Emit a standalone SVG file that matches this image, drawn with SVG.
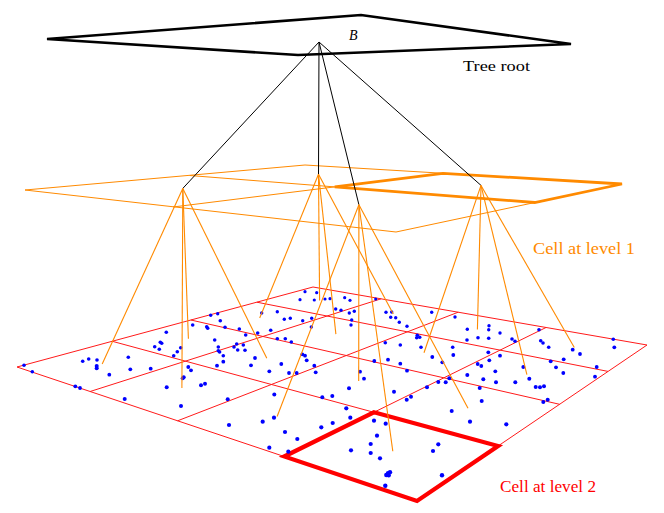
<svg xmlns="http://www.w3.org/2000/svg" width="664" height="513" viewBox="0 0 664 513">
<style>
.root{fill:none;stroke:#000;stroke-width:2.6;stroke-linejoin:miter}
.l1{fill:none;stroke:#ff8a00;stroke-width:1}
.l1cell{fill:none;stroke:#ff8a00;stroke-width:2.8;stroke-linejoin:miter}
.l2{fill:none;stroke:#ff1a1a;stroke-width:1}
.l2cell{fill:none;stroke:#ff0000;stroke-width:4.2;stroke-linejoin:miter}
.bk{stroke:#000;stroke-width:1}
.or{stroke:#ff8a00;stroke-width:1.1}
.pt{fill:#0000ff}
.lbl{font-family:"Liberation Serif","DejaVu Serif",serif}
</style>
<rect width="664" height="513" fill="#fff"/>
<g id="root-cell">
<polygon class="root" points="47,39 361,15 571,44 298,55"/>
<text class="lbl" x="349" y="40" font-size="14" font-style="italic">B</text>
<text class="lbl" x="463" y="71" font-size="15" textLength="67" lengthAdjust="spacingAndGlyphs">Tree root</text>
</g>
<g id="level1-grid">
<polygon class="l1" points="25,190 305,165 622,184 396,232"/>
<polyline class="l1" points="189.7,175.5 334.7,186.9 534.7,202.5"/>
<polyline class="l1" points="173,207 334.7,186.9 443,173.3"/>
</g>
<g id="level1-cell">
<polygon class="l1cell" points="334.7,186.9 443,173.3 622,184 534.7,202.5"/>
<text class="lbl" x="533" y="254" font-size="17" fill="#ff8a00" textLength="102" lengthAdjust="spacingAndGlyphs">Cell at level 1</text>
</g>
<g id="level2-grid">
<polygon class="l2" points="313,287 647,345 417,501 17,367"/>
<line class="l2" x1="381.1" y1="298.8" x2="90.1" y2="391.5"/>
<line class="l2" x1="458.2" y1="312.2" x2="177.6" y2="420.8"/>
<line class="l2" x1="546" y1="327.5" x2="284.2" y2="456.5"/>
<line class="l2" x1="256.9" y1="302.2" x2="608" y2="371.4"/>
<line class="l2" x1="190.9" y1="320" x2="559.6" y2="404.3"/>
<line class="l2" x1="112.3" y1="341.3" x2="498.1" y2="446"/>
</g>
<g id="level2-cell">
<polygon class="l2cell" points="373.9,412.3 498.1,446 417,501 284.2,456.5"/>
<text class="lbl" x="500" y="492" font-size="16.5" fill="#ff0000" textLength="96" lengthAdjust="spacingAndGlyphs">Cell at level 2</text>
</g>
<g id="points" class="pt">
<circle cx="24" cy="365.3" r="1.8"/><circle cx="32.3" cy="371.7" r="1.8"/><circle cx="82.7" cy="361.3" r="1.8"/><circle cx="88.7" cy="359" r="1.8"/><circle cx="97" cy="360" r="1.8"/><circle cx="96.7" cy="366" r="2"/><circle cx="96.7" cy="368.3" r="2"/><circle cx="109.3" cy="374.7" r="1.9"/><circle cx="128.3" cy="357.3" r="1.8"/><circle cx="130.3" cy="369.3" r="1.9"/><circle cx="150.7" cy="368.7" r="1.9"/><circle cx="166.3" cy="332.3" r="1.8"/><circle cx="154.7" cy="346.7" r="1.8"/><circle cx="160.3" cy="342.3" r="1.8"/><circle cx="161.7" cy="343.3" r="1.8"/><circle cx="159.3" cy="349.3" r="1.8"/><circle cx="173.7" cy="355.7" r="1.8"/><circle cx="177.3" cy="351.7" r="1.8"/><circle cx="180.7" cy="347.7" r="1.8"/><circle cx="192.7" cy="325" r="1.8"/><circle cx="188.3" cy="367" r="1.9"/><circle cx="191" cy="370.3" r="1.9"/><circle cx="183.7" cy="377.3" r="2"/><circle cx="182.7" cy="378.3" r="2"/><circle cx="166.7" cy="387.3" r="2"/><circle cx="201" cy="385.3" r="2"/><circle cx="205" cy="383.7" r="2"/><circle cx="75.3" cy="386.3" r="1.9"/><circle cx="80" cy="388" r="1.9"/><circle cx="210.7" cy="315.3" r="1.7"/><circle cx="217.7" cy="313.7" r="1.7"/><circle cx="220.3" cy="320.7" r="1.8"/><circle cx="225" cy="327.3" r="1.8"/><circle cx="206.7" cy="326.7" r="1.8"/><circle cx="207.7" cy="328.3" r="1.8"/><circle cx="214.7" cy="340" r="1.8"/><circle cx="218.3" cy="347" r="1.8"/><circle cx="218.3" cy="350.7" r="1.8"/><circle cx="219.6" cy="352" r="1.8"/><circle cx="223.3" cy="355.7" r="1.8"/><circle cx="217" cy="365.7" r="1.9"/><circle cx="223.3" cy="361.7" r="1.9"/>
<circle cx="124.7" cy="399" r="2"/><circle cx="181" cy="406" r="2"/><circle cx="227.7" cy="399.3" r="2"/><circle cx="229" cy="425" r="2.1"/>
<circle cx="305" cy="291.7" r="1.6"/><circle cx="316.7" cy="292.7" r="1.6"/><circle cx="300" cy="299.7" r="1.6"/><circle cx="314.3" cy="300" r="1.6"/><circle cx="325" cy="299" r="1.6"/><circle cx="330" cy="298.7" r="1.6"/><circle cx="344.7" cy="297.7" r="1.6"/><circle cx="350" cy="300.3" r="1.6"/><circle cx="375.7" cy="299" r="1.6"/><circle cx="335.7" cy="309" r="1.7"/><circle cx="341" cy="310.3" r="1.7"/><circle cx="349.3" cy="313" r="1.7"/><circle cx="354.3" cy="311.3" r="1.7"/><circle cx="351.7" cy="320" r="1.7"/><circle cx="351" cy="325" r="1.7"/><circle cx="277.3" cy="311.7" r="1.7"/><circle cx="261.7" cy="313" r="1.7"/><circle cx="284.3" cy="319.3" r="1.7"/><circle cx="290.3" cy="318.3" r="1.7"/><circle cx="302.7" cy="320.7" r="1.7"/><circle cx="311.7" cy="318.3" r="1.7"/><circle cx="311.3" cy="327" r="1.7"/><circle cx="270.7" cy="330.3" r="1.8"/><circle cx="257.7" cy="333" r="1.8"/><circle cx="239.3" cy="329" r="1.8"/><circle cx="245.7" cy="335" r="1.8"/><circle cx="277.3" cy="338.7" r="1.8"/><circle cx="285.3" cy="338.7" r="1.8"/><circle cx="291.3" cy="342" r="1.8"/><circle cx="236.7" cy="344" r="1.8"/><circle cx="234" cy="347" r="1.8"/><circle cx="243.3" cy="345" r="1.8"/><circle cx="237.7" cy="350" r="1.8"/><circle cx="245" cy="350.3" r="1.8"/><circle cx="255" cy="358" r="1.9"/><circle cx="251" cy="365.3" r="1.9"/><circle cx="302.3" cy="354.3" r="1.9"/><circle cx="305" cy="355.7" r="1.9"/><circle cx="306.7" cy="360.3" r="1.9"/><circle cx="281.3" cy="364" r="1.9"/><circle cx="314.3" cy="365.7" r="1.9"/><circle cx="269.3" cy="371.3" r="1.9"/><circle cx="289" cy="373" r="1.9"/><circle cx="296.7" cy="373" r="1.9"/><circle cx="315.7" cy="372.3" r="1.9"/><circle cx="360" cy="371.7" r="1.9"/><circle cx="364" cy="378.7" r="1.9"/><circle cx="349" cy="388.3" r="2"/><circle cx="386" cy="312.3" r="1.7"/><circle cx="391.7" cy="312" r="1.7"/><circle cx="390.7" cy="317.3" r="1.7"/><circle cx="395.7" cy="317.7" r="1.7"/><circle cx="399.3" cy="322.3" r="1.7"/><circle cx="407" cy="326.3" r="1.7"/><circle cx="431.7" cy="312.3" r="1.7"/><circle cx="385.3" cy="342.7" r="1.8"/><circle cx="400.3" cy="345" r="1.8"/><circle cx="417.3" cy="335.3" r="1.8"/><circle cx="419.7" cy="337.3" r="1.8"/><circle cx="416.7" cy="337.7" r="1.8"/><circle cx="421" cy="347.3" r="1.8"/><circle cx="432.3" cy="357" r="1.9"/><circle cx="442.3" cy="362.3" r="1.9"/><circle cx="374.3" cy="361" r="1.9"/><circle cx="388" cy="359.7" r="1.9"/><circle cx="400.3" cy="363.7" r="1.9"/><circle cx="407" cy="370.7" r="1.9"/><circle cx="438.3" cy="382" r="2"/><circle cx="427" cy="387.3" r="2"/><circle cx="394" cy="391.7" r="2"/><circle cx="274.3" cy="394.5" r="2"/>
<circle cx="455" cy="317" r="1.7"/><circle cx="467.3" cy="329.3" r="1.7"/><circle cx="489" cy="325.7" r="1.7"/><circle cx="488.7" cy="329.7" r="1.7"/><circle cx="500" cy="333" r="1.7"/><circle cx="467" cy="340" r="1.8"/><circle cx="478" cy="337.7" r="1.8"/><circle cx="488.7" cy="338.3" r="1.8"/><circle cx="512" cy="339" r="1.8"/><circle cx="515" cy="341.3" r="1.8"/><circle cx="539" cy="329.7" r="1.8"/><circle cx="540.7" cy="340.7" r="1.8"/><circle cx="543" cy="343" r="1.8"/><circle cx="548.7" cy="347.3" r="1.8"/><circle cx="572.7" cy="349.7" r="1.9"/><circle cx="580" cy="354" r="1.9"/><circle cx="613.3" cy="339.3" r="1.8"/><circle cx="614.3" cy="347.3" r="1.9"/><circle cx="452.7" cy="347.3" r="1.8"/><circle cx="453.3" cy="355" r="1.9"/><circle cx="488.3" cy="352.3" r="1.9"/><circle cx="500" cy="355.7" r="1.9"/><circle cx="489.3" cy="360.3" r="1.9"/><circle cx="477.7" cy="364" r="1.9"/><circle cx="481.3" cy="366" r="1.9"/><circle cx="495.3" cy="371.3" r="1.9"/><circle cx="523.3" cy="367" r="1.9"/><circle cx="467.3" cy="375" r="2"/><circle cx="483.3" cy="379.3" r="2"/><circle cx="496" cy="382.3" r="2"/><circle cx="515.3" cy="382.3" r="2"/><circle cx="529.3" cy="378.7" r="2"/><circle cx="550.7" cy="361.3" r="1.9"/><circle cx="556" cy="367.3" r="1.9"/><circle cx="563.7" cy="359.3" r="1.9"/><circle cx="563.3" cy="373" r="1.9"/><circle cx="596.7" cy="367" r="1.9"/><circle cx="595" cy="376.7" r="1.9"/><circle cx="535.7" cy="387" r="2"/><circle cx="540" cy="387.3" r="2"/><circle cx="544" cy="386.3" r="2"/><circle cx="445.7" cy="382.3" r="2"/><circle cx="449.3" cy="378.3" r="2"/><circle cx="479.7" cy="388" r="2"/>
<circle cx="322.3" cy="397.3" r="2"/><circle cx="332.3" cy="396" r="2"/><circle cx="406.7" cy="399.7" r="2"/><circle cx="411" cy="396.7" r="2"/><circle cx="262.7" cy="421.7" r="2.1"/><circle cx="274" cy="417.7" r="2.1"/><circle cx="285" cy="432" r="2.1"/><circle cx="297.3" cy="439" r="2.1"/><circle cx="269.3" cy="447.7" r="2.1"/><circle cx="288.3" cy="451.7" r="2.1"/><circle cx="321.3" cy="427.3" r="2.1"/><circle cx="332.7" cy="423" r="2.1"/><circle cx="346.3" cy="408.3" r="2.1"/><circle cx="350.3" cy="417.7" r="2.1"/><circle cx="374" cy="420.7" r="2.1"/><circle cx="385.7" cy="423.7" r="2.1"/><circle cx="377" cy="435.7" r="2.1"/><circle cx="370.7" cy="444" r="2.1"/><circle cx="351" cy="450.3" r="2.1"/><circle cx="370.7" cy="453" r="2.1"/><circle cx="380" cy="458.3" r="2.1"/><circle cx="388" cy="473.3" r="2.2"/><circle cx="390" cy="472.3" r="2.2"/><circle cx="386.3" cy="475" r="2.2"/><circle cx="388.7" cy="475.3" r="2.2"/><circle cx="385.3" cy="485.7" r="2.2"/><circle cx="438.3" cy="444.3" r="2.1"/><circle cx="433" cy="451" r="2.1"/><circle cx="442" cy="475.3" r="2.2"/><circle cx="481.7" cy="401" r="2"/><circle cx="451.7" cy="411" r="2"/><circle cx="470" cy="421.7" r="2.1"/><circle cx="506.3" cy="424.3" r="2.1"/><circle cx="543.3" cy="402" r="2"/><circle cx="547.7" cy="399.7" r="2"/>
</g>
<g id="connectors">
<line class="bk" x1="319" y1="42" x2="182.8" y2="188.4"/>
<line class="bk" x1="319" y1="42" x2="318.5" y2="174.3"/>
<line class="bk" x1="319" y1="42" x2="358.9" y2="204.7"/>
<line class="bk" x1="319" y1="42" x2="481" y2="185.4"/>
<line class="or" x1="182.8" y1="188.4" x2="102.2" y2="364"/>
<line class="or" x1="182.8" y1="188.4" x2="188.4" y2="338.8"/>
<line class="or" x1="182.8" y1="188.4" x2="181.9" y2="387.9"/>
<line class="or" x1="182.8" y1="188.4" x2="266.8" y2="358.3"/>
<line class="or" x1="318.5" y1="174.3" x2="319.6" y2="300.5"/>
<line class="or" x1="318.5" y1="174.3" x2="393.3" y2="314.1"/>
<line class="or" x1="318.5" y1="174.3" x2="259.7" y2="318"/>
<line class="or" x1="318.5" y1="174.3" x2="335.9" y2="334.1"/>
<line class="or" x1="358.9" y1="204.7" x2="358.7" y2="381.1"/>
<line class="or" x1="358.9" y1="204.7" x2="468" y2="408.2"/>
<line class="or" x1="358.9" y1="204.7" x2="277.1" y2="416.5"/>
<line class="or" x1="358.9" y1="204.7" x2="392.8" y2="451.2"/>
<line class="or" x1="481" y1="185.4" x2="477.4" y2="329.6"/>
<line class="or" x1="481" y1="185.4" x2="574.3" y2="347.5"/>
<line class="or" x1="481" y1="185.4" x2="424" y2="352.8"/>
<line class="or" x1="481" y1="185.4" x2="526.9" y2="374.6"/>
</g>
</svg>
